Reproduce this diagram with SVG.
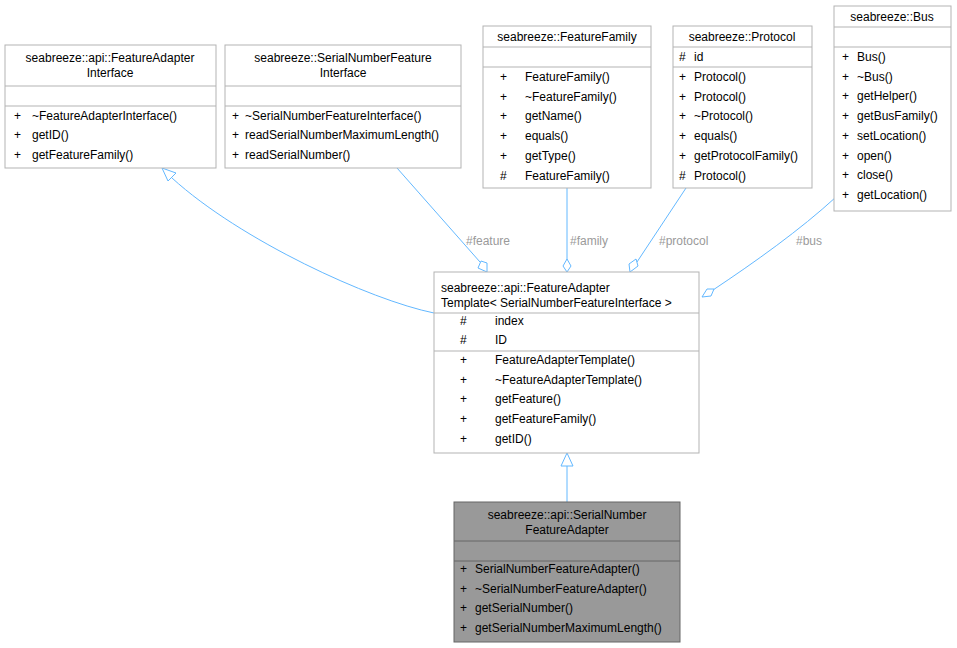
<svg xmlns="http://www.w3.org/2000/svg" width="957" height="648" viewBox="0 0 957 648">
<style>
text{font-family:"Liberation Sans",Arial,sans-serif;font-size:12px;fill:#000}
.b{fill:#fff;stroke:#b3b3b3;stroke-width:1}
.s{fill:#999;stroke:#666;stroke-width:1}
.l{stroke:#b3b3b3;stroke-width:1}
.ls{stroke:#666;stroke-width:1}
.e{fill:none;stroke:#63b8ff;stroke-width:1}
.lab{fill:#9a9a9a}
.m{text-anchor:middle}
</style>
<rect width="957" height="648" fill="#fff"/>
<g id="connectors">
<path class="e" d="M434,313 C370,300 240,240 172,178"/>
<polygon points="162,168 176,173 168,181" fill="#fff" stroke="#63b8ff"/>
<path class="e" d="M397,168 L480,262"/>
<polygon points="487,272 478,268 481,261 487,263" fill="#fff" stroke="#63b8ff"/>
<text class="lab" x="466" y="245">#feature</text>
<path class="e" d="M567,188 L567,260"/>
<polygon points="567,272 563,266 567,259 571,266" fill="#fff" stroke="#63b8ff"/>
<text class="lab" x="570" y="245">#family</text>
<path class="e" d="M686,188 L637,262"/>
<polygon points="630,272 629,264 636,259 638,266" fill="#fff" stroke="#63b8ff"/>
<text class="lab" x="659" y="245">#protocol</text>
<path class="e" d="M836,197 C800,230 755,262 713,290"/>
<polygon points="702,297 707,289 714,289 711,296" fill="#fff" stroke="#63b8ff"/>
<text class="lab" x="796" y="245">#bus</text>
<path class="e" d="M567,502 L567,466"/>
<polygon points="567,453 573,466 561,466" fill="#fff" stroke="#63b8ff"/>
</g>
<g id="FeatureAdapterInterface">
<rect class="b" x="5" y="45" width="211" height="123"/>
<text class="m" x="110" y="62">seabreeze::api::FeatureAdapter</text>
<text class="m" x="110" y="77">Interface</text>
<line class="l" x1="5" y1="86" x2="216" y2="86"/><line class="l" x1="5" y1="106" x2="216" y2="106"/>
<text x="14" y="120">+</text><text x="32" y="120">~FeatureAdapterInterface()</text>
<text x="14" y="139">+</text><text x="32" y="139">getID()</text>
<text x="14" y="159">+</text><text x="32" y="159">getFeatureFamily()</text>
</g>
<g id="SerialNumberFeatureInterface">
<rect class="b" x="225" y="45" width="236" height="123"/>
<text class="m" x="343" y="62">seabreeze::SerialNumberFeature</text>
<text class="m" x="343" y="77">Interface</text>
<line class="l" x1="225" y1="86" x2="461" y2="86"/><line class="l" x1="225" y1="106" x2="461" y2="106"/>
<text x="232" y="120">+</text><text x="245" y="120">~SerialNumberFeatureInterface()</text>
<text x="232" y="139">+</text><text x="245" y="139">readSerialNumberMaximumLength()</text>
<text x="232" y="159">+</text><text x="245" y="159">readSerialNumber()</text>
</g>
<g id="FeatureFamily">
<rect class="b" x="483" y="26" width="168" height="162"/>
<text class="m" x="567" y="41">seabreeze::FeatureFamily</text>
<line class="l" x1="483" y1="47" x2="651" y2="47"/><line class="l" x1="483" y1="67" x2="651" y2="67"/>
<text x="500" y="81">+</text><text x="525" y="81">FeatureFamily()</text>
<text x="500" y="101">+</text><text x="525" y="101">~FeatureFamily()</text>
<text x="500" y="120">+</text><text x="525" y="120">getName()</text>
<text x="500" y="140">+</text><text x="525" y="140">equals()</text>
<text x="500" y="160">+</text><text x="525" y="160">getType()</text>
<text x="500" y="180">#</text><text x="525" y="180">FeatureFamily()</text>
</g>
<g id="Protocol">
<rect class="b" x="673" y="26" width="139" height="162"/>
<text class="m" x="742" y="41">seabreeze::Protocol</text>
<line class="l" x1="673" y1="47" x2="812" y2="47"/>
<text x="679" y="61">#</text><text x="694" y="61">id</text>
<line class="l" x1="673" y1="67" x2="812" y2="67"/>
<text x="679" y="81">+</text><text x="694" y="81">Protocol()</text>
<text x="679" y="101">+</text><text x="694" y="101">Protocol()</text>
<text x="679" y="120">+</text><text x="694" y="120">~Protocol()</text>
<text x="679" y="140">+</text><text x="694" y="140">equals()</text>
<text x="679" y="160">+</text><text x="694" y="160">getProtocolFamily()</text>
<text x="679" y="180">#</text><text x="694" y="180">Protocol()</text>
</g>
<g id="Bus">
<rect class="b" x="834" y="6" width="117" height="205"/>
<text class="m" x="892" y="21">seabreeze::Bus</text>
<line class="l" x1="834" y1="27" x2="951" y2="27"/><line class="l" x1="834" y1="47" x2="951" y2="47"/>
<text x="842" y="61">+</text><text x="857" y="61">Bus()</text>
<text x="842" y="81">+</text><text x="857" y="81">~Bus()</text>
<text x="842" y="100">+</text><text x="857" y="100">getHelper()</text>
<text x="842" y="120">+</text><text x="857" y="120">getBusFamily()</text>
<text x="842" y="140">+</text><text x="857" y="140">setLocation()</text>
<text x="842" y="160">+</text><text x="857" y="160">open()</text>
<text x="842" y="179">+</text><text x="857" y="179">close()</text>
<text x="842" y="199">+</text><text x="857" y="199">getLocation()</text>
</g>
<g id="FeatureAdapterTemplate">
<rect class="b" x="434" y="272" width="265" height="181"/>
<text x="441" y="292">seabreeze::api::FeatureAdapter</text>
<text x="441" y="307">Template&lt; SerialNumberFeatureInterface &gt;</text>
<line class="l" x1="434" y1="313" x2="699" y2="313"/>
<text x="460" y="325">#</text><text x="495" y="325">index</text>
<text x="460" y="344">#</text><text x="495" y="344">ID</text>
<line class="l" x1="434" y1="351" x2="699" y2="351"/>
<text x="460" y="364">+</text><text x="495" y="364">FeatureAdapterTemplate()</text>
<text x="460" y="384">+</text><text x="495" y="384">~FeatureAdapterTemplate()</text>
<text x="460" y="403">+</text><text x="495" y="403">getFeature()</text>
<text x="460" y="423">+</text><text x="495" y="423">getFeatureFamily()</text>
<text x="460" y="443">+</text><text x="495" y="443">getID()</text>
</g>
<g id="SerialNumberFeatureAdapter">
<rect class="s" x="454" y="502" width="226" height="140"/>
<text class="m" x="567" y="519">seabreeze::api::SerialNumber</text>
<text class="m" x="567" y="534">FeatureAdapter</text>
<line class="ls" x1="454" y1="541" x2="680" y2="541"/><line class="ls" x1="454" y1="561" x2="680" y2="561"/>
<text x="460" y="573">+</text><text x="475" y="573">SerialNumberFeatureAdapter()</text>
<text x="460" y="593">+</text><text x="475" y="593">~SerialNumberFeatureAdapter()</text>
<text x="460" y="612">+</text><text x="475" y="612">getSerialNumber()</text>
<text x="460" y="632">+</text><text x="475" y="632">getSerialNumberMaximumLength()</text>
</g>
</svg>
